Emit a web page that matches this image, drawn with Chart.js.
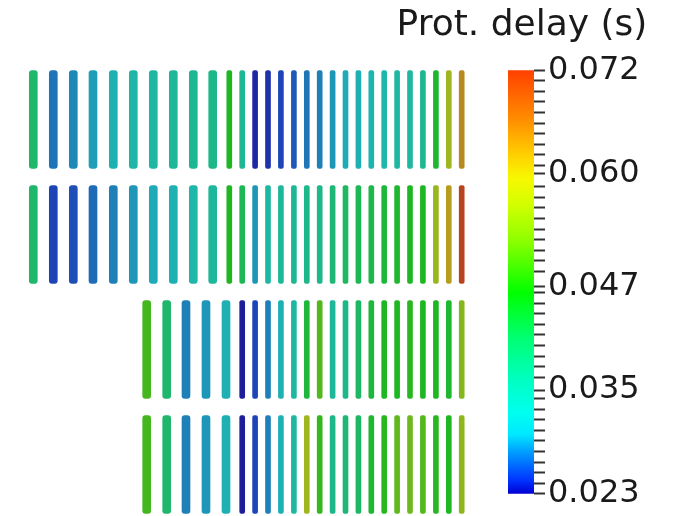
<!DOCTYPE html>
<html>
<head>
<meta charset="utf-8">
<title>Prot. delay</title>
<script src="https://cdn.jsdelivr.net/npm/chart.js@4.4.0/dist/chart.umd.min.js"></script>
<style>
  html, body { margin: 0; padding: 0; background: #fff; overflow: hidden; }
  #rods { position: absolute; left: 0; top: 0; }
  #scalebar { position: absolute; left: 370px; top: 0; }
</style>
</head>
<body>
<canvas id="rods" width="480" height="522"></canvas>
<canvas id="scalebar" width="304" height="516"></canvas>
<script>
// rod positions along each row (x units), upper rows share one layout, lower rows another
var upperWideX = [3.33, 5.33, 7.33, 9.3, 11.33, 13.33, 15.33, 17.33, 19.33, 21.27];
var upperThinX = [22.93, 24.22, 25.51, 26.8, 28.09, 29.39, 30.68, 31.97, 33.26, 34.55,
                  35.84, 37.13, 38.42, 39.71, 41.0, 42.29, 43.59, 44.88, 46.17];
var lowerWideX = [14.67, 16.67, 18.6, 20.6, 22.6];
var lowerThinX = [24.22, 25.51, 26.8, 28.09, 29.39, 30.68, 31.97, 33.26, 34.55,
                  35.84, 37.13, 38.42, 39.71, 41.0, 42.29, 43.59, 44.88, 46.17];

// protection delay per rod (s)
var row1Wide = [0.040, 0.0274, 0.0284, 0.0294, 0.0313, 0.0333, 0.034, 0.035, 0.036, 0.037];
var row1Thin = [0.046, 0.036, 0.0235, 0.024, 0.025, 0.026, 0.0275, 0.028, 0.029, 0.030,
                0.031, 0.032, 0.033, 0.034, 0.034, 0.036, 0.045, 0.057, 0.064];
var row2Wide = [0.040, 0.025, 0.0255, 0.027, 0.028, 0.029, 0.030, 0.031, 0.033, 0.035];
var row2Thin = [0.046, 0.042, 0.029, 0.034, 0.035, 0.036, 0.037, 0.037, 0.039, 0.041,
                0.042, 0.043, 0.044, 0.045, 0.046, 0.046, 0.056, 0.062, 0.072];
var row3Wide = [0.049, 0.040, 0.028, 0.029, 0.031];
var row3Thin = [0.023, 0.025, 0.028, 0.031, 0.034, 0.044, 0.050, 0.035, 0.037,
                0.041, 0.044, 0.046, 0.046, 0.047, 0.046, 0.046, 0.045, 0.054];
var row4Wide = [0.049, 0.040, 0.028, 0.029, 0.031];
var row4Thin = [0.023, 0.025, 0.028, 0.031, 0.034, 0.057, 0.048, 0.037, 0.039,
                0.041, 0.045, 0.047, 0.051, 0.052, 0.050, 0.047, 0.046, 0.055];

// colour scale
var delayMin = 0.023;
var delayMax = 0.072;
var scaleLabels = [0.023, 0.035, 0.047, 0.060, 0.072];
var minorSteps = 40;

// rainbow map, [fraction, r, g, b]
var colorStops = [
  [0.00, 0, 0, 208], [0.03, 0, 48, 255], [0.06, 0, 96, 255], [0.10, 0, 160, 255],
  [0.14, 0, 232, 255], [0.19, 0, 255, 240], [0.27, 0, 255, 192], [0.37, 0, 255, 112],
  [0.475, 0, 255, 0], [0.53, 64, 255, 0], [0.60, 144, 255, 0], [0.68, 208, 255, 0],
  [0.745, 248, 248, 0], [0.80, 255, 208, 0], [0.88, 255, 144, 0], [1.00, 255, 64, 0]
];

function delayRgb(v) {
  var f = (v - delayMin) / (delayMax - delayMin);
  f = Math.max(0, Math.min(1, f));
  for (var i = 1; i < colorStops.length; i++) {
    var a = colorStops[i - 1], b = colorStops[i];
    if (f <= b[0]) {
      var t = (f - a[0]) / (b[0] - a[0]);
      return [a[1] + t * (b[1] - a[1]), a[2] + t * (b[2] - a[2]), a[3] + t * (b[3] - a[3])];
    }
  }
  var last = colorStops[colorStops.length - 1];
  return [last[1], last[2], last[3]];
}

// rods are lit, so they look duller than the bar
function rodColor(v) {
  var c = delayRgb(v).map(function (x) { return Math.round(x * 0.6 + 30); });
  return 'rgb(' + c.join(',') + ')';
}

var rodHalf = 0.425;

function rodSet(row, xs, delays, width) {
  return {
    data: xs.map(function (x) { return { x: x, y: [row - rodHalf, row + rodHalf] }; }),
    backgroundColor: delays.map(rodColor),
    barThickness: width,
    grouped: false,
    borderRadius: width > 6 ? 3 : 2,
    borderSkipped: false
  };
}

new Chart(document.getElementById('rods'), {
  type: 'bar',
  data: {
    datasets: [
      rodSet(0, upperWideX, row1Wide, 8), rodSet(0, upperThinX, row1Thin, 5),
      rodSet(1, upperWideX, row2Wide, 8), rodSet(1, upperThinX, row2Thin, 5),
      rodSet(2, lowerWideX, row3Wide, 8), rodSet(2, lowerThinX, row3Thin, 5),
      rodSet(3, lowerWideX, row4Wide, 8), rodSet(3, lowerThinX, row4Thin, 5)
    ]
  },
  options: {
    responsive: false,
    animation: false,
    layout: { padding: { top: 62 } },
    plugins: { legend: { display: false }, tooltip: { enabled: false } },
    scales: {
      x: { type: 'linear', min: 0, max: 48, offset: false, display: false },
      y: { type: 'linear', min: -0.5, max: 3.5, reverse: true, display: false }
    }
  }
});

function isLabel(v) {
  return scaleLabels.some(function (l) { return Math.abs(l - v) < 1e-9; });
}

new Chart(document.getElementById('scalebar'), {
  type: 'bar',
  data: {
    labels: [''],
    datasets: [{
      data: [[delayMin, delayMax]],
      barPercentage: 1,
      categoryPercentage: 1,
      yAxisID: 'y',
      backgroundColor: function (ctx) {
        var chart = ctx.chart;
        if (!chart.chartArea) return null;
        var ys = chart.scales.y;
        var g = chart.ctx.createLinearGradient(0, ys.getPixelForValue(delayMin), 0, ys.getPixelForValue(delayMax));
        colorStops.forEach(function (s) {
          g.addColorStop(s[0], 'rgb(' + s[1] + ',' + s[2] + ',' + s[3] + ')');
        });
        return g;
      }
    }]
  },
  options: {
    responsive: false,
    animation: false,
    plugins: {
      legend: { display: false },
      tooltip: { enabled: false },
      title: {
        display: true,
        text: 'Prot. delay (s)',
        color: '#1a1a1a',
        font: { family: 'DejaVu Sans', size: 36, weight: 'normal', lineHeight: 1.2 },
        padding: { top: 4, bottom: 23 }
      }
    },
    scales: {
      x: { display: false },
      pad: {
        type: 'linear',
        position: 'left',
        grid: { display: false },
        border: { display: false },
        ticks: { display: false },
        afterFit: function (s) { s.width = 138; }
      },
      y: {
        type: 'linear',
        position: 'right',
        min: delayMin,
        max: delayMax,
        border: { display: false },
        grid: { drawOnChartArea: false, tickLength: 11, tickColor: '#333', tickWidth: 2 },
        afterBuildTicks: function (scale) {
          var ticks = [];
          for (var k = 0; k <= minorSteps; k++) {
            ticks.push({ value: delayMin + (delayMax - delayMin) * k / minorSteps });
          }
          // put the labelled values on their nearest minor tick
          scaleLabels.forEach(function (v) {
            var best = 0;
            ticks.forEach(function (t, i) {
              if (Math.abs(t.value - v) < Math.abs(ticks[best].value - v)) best = i;
            });
            ticks[best].value = v;
          });
          scale.ticks = ticks;
        },
        afterFit: function (s) { s.width = 140; },
        ticks: {
          autoSkip: false,
          padding: 3,
          color: '#1a1a1a',
          font: { family: 'DejaVu Sans', size: 32 },
          callback: function (value) { return isLabel(value) ? value.toFixed(3) : ''; }
        }
      }
    }
  }
});
</script>
</body>
</html>
